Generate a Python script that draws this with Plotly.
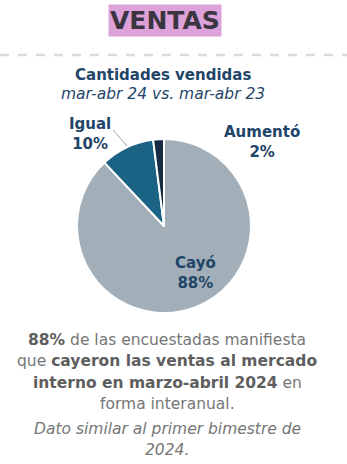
import plotly.graph_objects as go

W, H = 347, 464

labels = ["Cayó", "Igual", "Aumentó"]
values = [88, 10, 2]
colors = ["#A2AFB9", "#1B6384", "#172C44"]

title_text = "VENTAS"
subtitle1 = "Cantidades vendidas"
subtitle2 = "mar-abr 24 vs. mar-abr 23"
BOLD = "<b><span style='color:#5E5E5E'>{}</span></b>"
body_lines = [
    BOLD.format("88%") + " de las encuestadas manifiesta",
    "que " + BOLD.format("cayeron las ventas al mercado"),
    BOLD.format("interno en marzo-abril 2024") + " en",
    "forma interanual.",
]
note_lines = ["<i>Dato similar al primer bimestre de</i>", "<i>2024.</i>"]


def px(x):
    return x / W


def py(y):
    return 1 - y / H


FONT = "DejaVu Sans"
NAVY = "#1F4568"
GRAY = "#767676"

cx, cy, r = 164, 226, 87

fig = go.Figure()
fig.add_trace(go.Pie(
    labels=labels, values=values, sort=False, direction="clockwise", rotation=0,
    marker=dict(colors=colors, line=dict(color="white", width=2)),
    textinfo="none", hoverinfo="label+percent", showlegend=False,
    domain=dict(x=[px(cx - r), px(cx + r)], y=[py(cy + r), py(cy - r)]),
))

ann = []
# Title box
ann.append(dict(x=px(165), y=py(21), text="<b>" + title_text + "</b>", showarrow=False,
                font=dict(family=FONT, size=25, color="#3A3540"),
                bgcolor="#DDA2DA", borderpad=1, xanchor="center", yanchor="middle"))
ann.append(dict(x=px(163), y=py(75), text="<b>" + subtitle1 + "</b>", showarrow=False,
                font=dict(family=FONT, size=15, color=NAVY), xanchor="center", yanchor="middle"))
ann.append(dict(x=px(163), y=py(94), text="<i>" + subtitle2 + "</i>", showarrow=False,
                font=dict(family=FONT, size=15.5, color=NAVY), xanchor="center", yanchor="middle"))

# Slice labels
slice_pos = {"Igual": (90, 134), "Aumentó": (262, 142), "Cayó": (195, 273)}
for lab, val in zip(labels, values):
    x, y = slice_pos[lab]
    ann.append(dict(x=px(x), y=py(y), text=f"<b>{lab}<br>{val}%</b>", showarrow=False,
                    font=dict(family=FONT, size=15, color=NAVY), xanchor="center", yanchor="middle",
                    align="center"))

# Body text
body_y = [340, 361, 383, 404]
for t, y in zip(body_lines, body_y):
    ann.append(dict(x=px(167), y=py(y), text=t, showarrow=False,
                    font=dict(family=FONT, size=15.5, color=GRAY), xanchor="center", yanchor="middle"))
note_y = [429, 450]
for t, y in zip(note_lines, note_y):
    ann.append(dict(x=px(167), y=py(y), text=t, showarrow=False,
                    font=dict(family=FONT, size=15.5, color=GRAY), xanchor="center", yanchor="middle"))

shapes = [
    dict(type="line", xref="paper", yref="paper", x0=0, x1=1, y0=py(55), y1=py(55),
         line=dict(color="#DADADA", width=2.5, dash="dash")),
    dict(type="line", xref="paper", yref="paper", x0=px(113), x1=px(127), y0=py(130), y1=py(146),
         line=dict(color="#9AA5AE", width=1)),
]

fig.update_layout(
    width=W, height=H, margin=dict(l=0, r=0, t=0, b=0),
    paper_bgcolor="white", plot_bgcolor="white",
    annotations=ann, shapes=shapes,
)

fig.write_html("out.html")
